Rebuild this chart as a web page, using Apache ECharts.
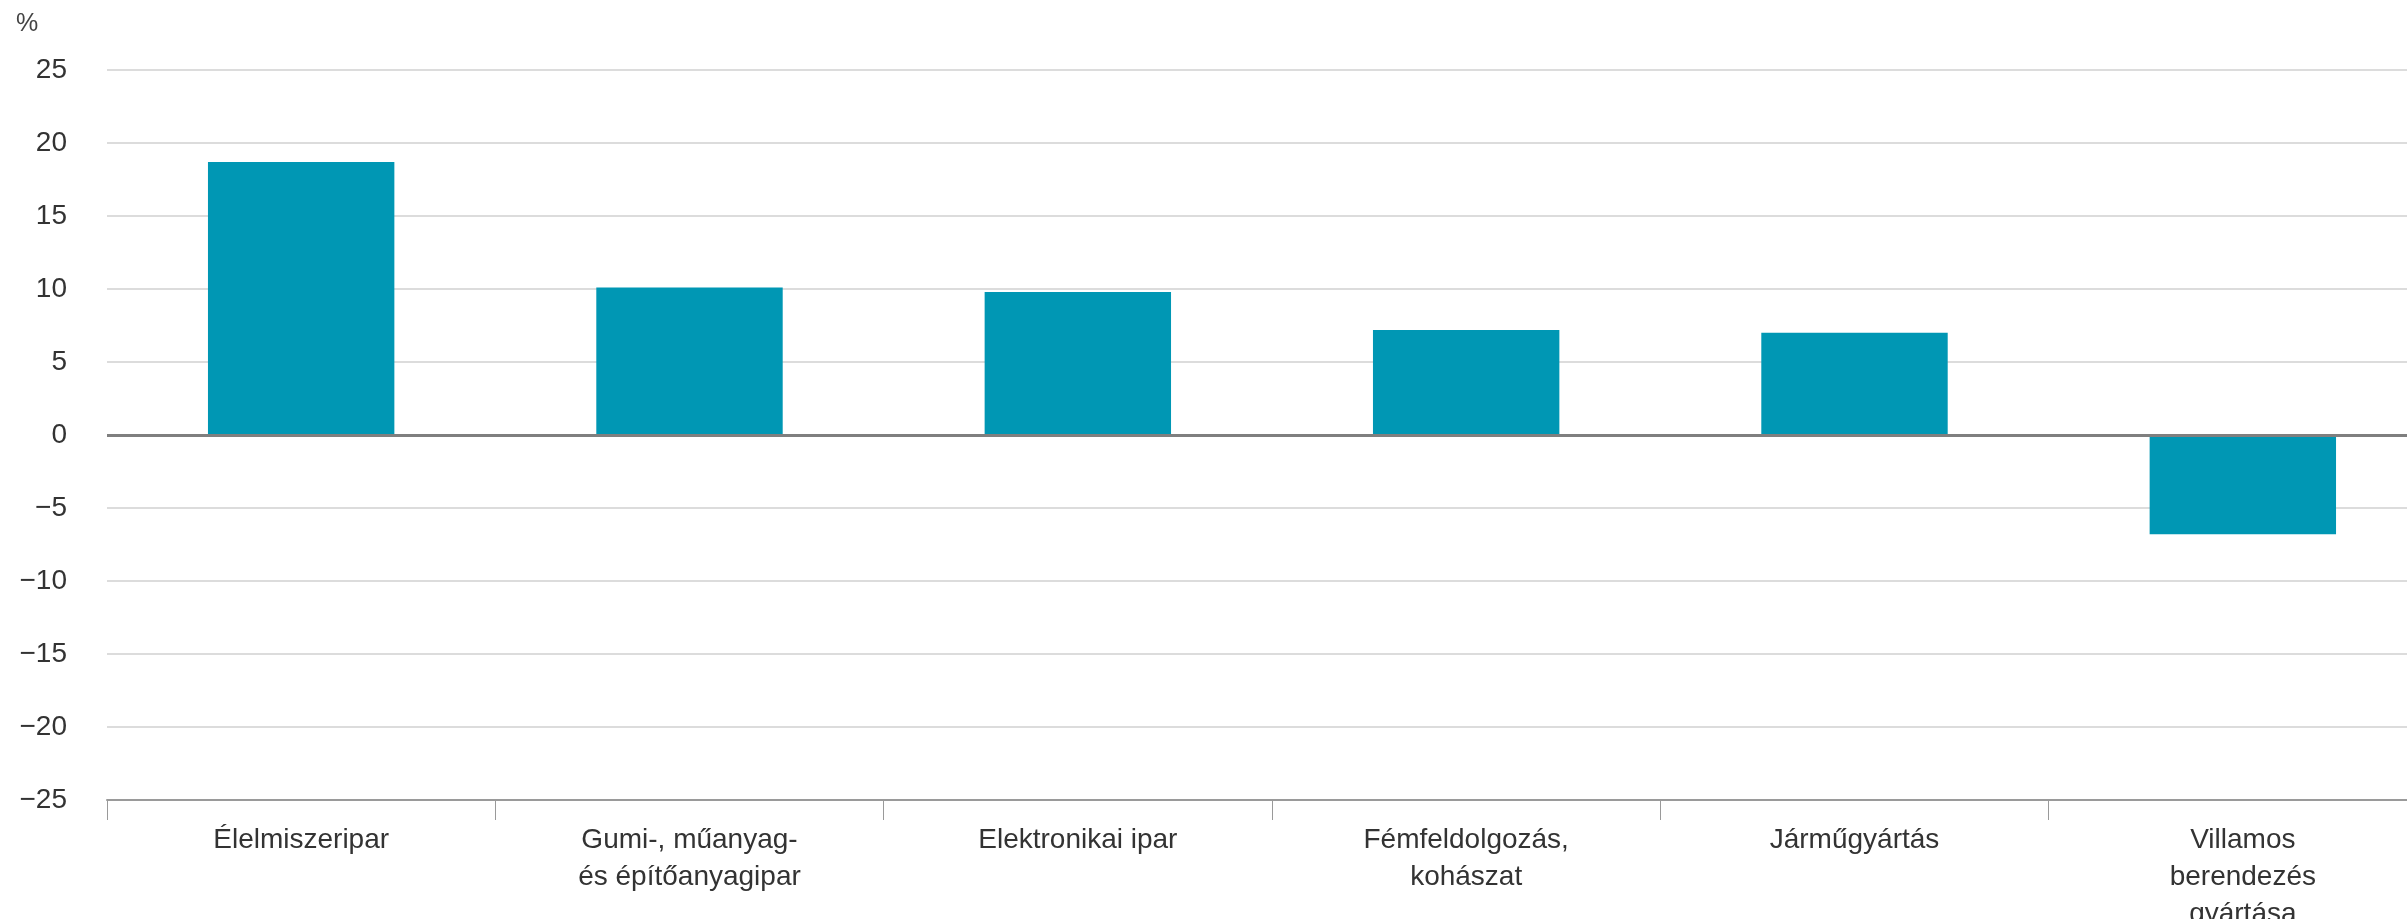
<!DOCTYPE html>
<html>
<head>
<meta charset="utf-8">
<script src="https://cdn.jsdelivr.net/npm/echarts@6/dist/echarts.min.js"></script>
<style>
html,body{margin:0;padding:0;background:#fff;}
#chart{width:2407px;height:919px;}
</style>
</head>
<body>
<div id="chart"></div>
<script>
const categories = ['Élelmiszeripar', 'Gumi-, műanyag-\nés építőanyagipar', 'Elektronikai ipar', 'Fémfeldolgozás,\nkohászat', 'Járműgyártás', 'Villamos\nberendezés\ngyártása'];
const values = [18.7, 10.1, 9.8, 7.2, 7.0, -6.8];
const yMin = -25, yMax = 25, yStep = 5;
const unitLabel = '%';

const chart = echarts.init(document.getElementById('chart'));
chart.setOption({
  animation: false,
  backgroundColor: '#ffffff',
  title: {
    text: unitLabel, left: 11, top: 7,
    textStyle: {fontFamily: 'Liberation Sans', fontSize: 25, fontWeight: 'normal', color: '#444'}
  },
  grid: {left: 107, right: -30, top: 70, bottom: 119, containLabel: false, outerBoundsMode: 'none'},
  xAxis: {
    type: 'category',
    data: categories,
    position: 'bottom',
    axisLine: {onZero: false, lineStyle: {color: '#9a9a9a', width: 2}},
    axisTick: {show: true, length: 20, lineStyle: {color: '#9a9a9a', width: 1}},
    axisLabel: {
      margin: 22, interval: 0,
      fontFamily: 'Liberation Sans', fontSize: 28, color: '#333', lineHeight: 37
    },
    splitLine: {show: false}
  },
  yAxis: {
    type: 'value', min: yMin, max: yMax, interval: yStep,
    axisLine: {show: false}, axisTick: {show: false},
    axisLabel: {
      margin: 40, fontFamily: 'Liberation Sans', fontSize: 28, color: '#333',
      formatter: v => (v < 0 ? '\u2212' + Math.abs(v) : String(v))
    },
    splitLine: {lineStyle: {color: '#dcdcdc', width: 2}}
  },
  series: [{
    type: 'bar',
    data: values,
    barWidth: '48%',
    itemStyle: {color: '#0097b4'},
    markLine: {
      silent: true, symbol: 'none', label: {show: false},
      lineStyle: {color: '#7f7f7f', width: 3, type: 'solid'},
      data: [{yAxis: 0}]
    }
  }]
});
</script>
</body>
</html>
